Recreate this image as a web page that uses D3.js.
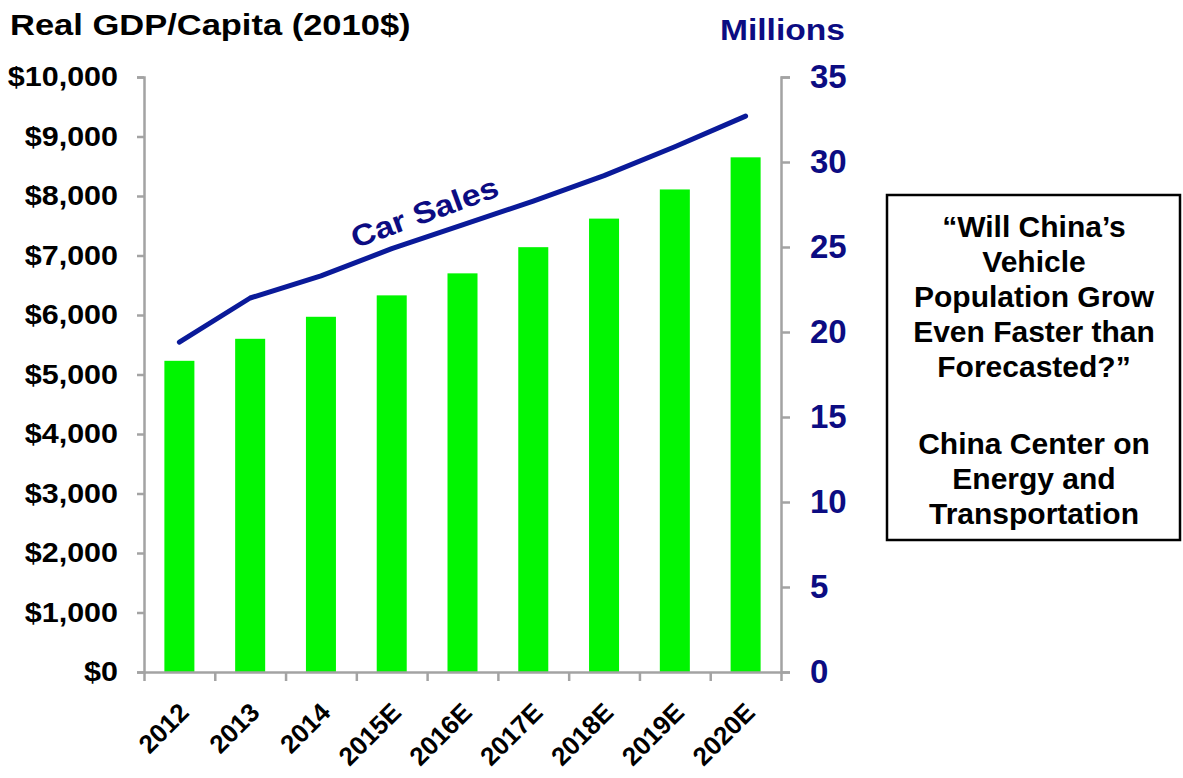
<!DOCTYPE html>
<html lang="en">
<head>
  <meta charset="UTF-8">
  <title>Real GDP per Capita and Car Sales</title>
  <style>
    body {
      margin: 0;
      background: #fff;
      font-family: "Liberation Sans", Arial, sans-serif;
    }
    text {
      font-weight: bold;
    }
  </style>
</head>
<body>
  <svg class="chart"></svg>
  <script src="https://cdn.jsdelivr.net/npm/d3@7"></script>
  <script>
    var w = 1183;
    var h = 778;

    // data
    var years = ["2012", "2013", "2014", "2015E", "2016E", "2017E", "2018E", "2019E", "2020E"];
    var gdpPerCapita = [5230, 5600, 5970, 6330, 6700, 7140, 7620, 8110, 8650];
    var carSales = [19.4, 22.0, 23.3, 24.9, 26.3, 27.7, 29.2, 30.9, 32.7];
    var gdpTicks = [0, 1000, 2000, 3000, 4000, 5000, 6000, 7000, 8000, 9000, 10000];
    var salesTicks = [0, 5, 10, 15, 20, 25, 30, 35];
    var boxLines = ["\u201cWill China\u2019s", "Vehicle", "Population Grow", "Even Faster than", "Forecasted?\u201d",
                    "", "China Center on", "Energy and", "Transportation"];

    var plotLeft = 144, plotRight = 781, plotTop = 77, plotBottom = 672;
    var axisColor = "#a3a3a3";
    var navy = "#0c0c82";

    var svg = d3.select(".chart")
      .attr("width", w)
      .attr("height", h);

    var x = d3.scaleBand()
      .domain(years)
      .range([plotLeft, plotRight])
      .paddingInner(0.576)
      .paddingOuter(0.288);

    var yL = d3.scaleLinear().domain([0, 10000]).range([plotBottom, plotTop]);
    var yR = d3.scaleLinear().domain([0, 35]).range([plotBottom, plotTop]);

    // bars
    svg.append("g")
      .selectAll("rect")
      .data(years)
      .enter()
      .append("rect")
      .attr("x", d => x(d))
      .attr("width", x.bandwidth())
      .attr("y", (d, i) => yL(gdpPerCapita[i]))
      .attr("height", (d, i) => plotBottom - yL(gdpPerCapita[i]))
      .attr("fill", "#00f500");

    // left axis
    var gL = svg.append("g")
      .attr("transform", "translate(" + plotLeft + ",0)")
      .call(d3.axisLeft(yL)
        .tickValues(gdpTicks)
        .tickFormat(d => "$" + d3.format(",")(d))
        .tickSize(7)
        .tickPadding(16));
    gL.selectAll("text")
      .attr("transform", "scale(1.13,1)")
      .attr("font-size", "27px")
      .attr("font-family", "Liberation Sans, Arial, sans-serif")
      .attr("fill", "#000");

    // right axis
    var gR = svg.append("g")
      .attr("transform", "translate(" + plotRight + ",0)")
      .call(d3.axisRight(yR)
        .tickValues(salesTicks)
        .tickSize(9)
        .tickPadding(20));
    gR.selectAll("text")
      .attr("font-size", "33px")
      .attr("font-family", "Liberation Sans, Arial, sans-serif")
      .attr("fill", navy);

    // bottom axis: ticks between the categories
    var xEdge = d3.scaleLinear().domain([0, years.length]).range([plotLeft, plotRight]);
    var gB = svg.append("g")
      .attr("transform", "translate(0," + plotBottom + ")")
      .call(d3.axisBottom(xEdge)
        .tickValues(d3.range(years.length + 1))
        .tickFormat("")
        .tickSize(9)
        .tickSizeOuter(0));

    // category labels
    var gX = svg.append("g")
      .attr("transform", "translate(0," + plotBottom + ")")
      .call(d3.axisBottom(x).tickSize(0));
    gX.select(".domain").remove();
    gX.selectAll("text")
      .attr("x", 0)
      .attr("y", 0)
      .attr("dy", 0)
      .attr("transform", "translate(11,42) rotate(-45)")
      .attr("text-anchor", "end")
      .attr("font-size", "26px")
      .attr("font-family", "Liberation Sans, Arial, sans-serif")
      .attr("fill", "#000");

    [gL, gR, gB].forEach(g => {
      g.selectAll("path, line")
        .attr("stroke", axisColor)
        .attr("stroke-width", 2.5);
    });

    // car sales line
    var lineFun = d3.line()
      .x((d, i) => x(years[i]) + x.bandwidth() / 2)
      .y(d => yR(d))
      .curve(d3.curveLinear);

    svg.append("path")
      .attr("d", lineFun(carSales))
      .attr("fill", "none")
      .attr("stroke", "#0a1a99")
      .attr("stroke-width", 5)
      .attr("stroke-linecap", "round")
      .attr("stroke-linejoin", "round");

    svg.append("text")
      .text("Car Sales")
      .attr("transform", "translate(428,222) rotate(-20) scale(1.13,1)")
      .attr("text-anchor", "middle")
      .attr("font-size", "30px")
      .attr("fill", navy);

    // titles
    svg.append("text")
      .text("Real GDP/Capita (2010$)")
      .attr("transform", "translate(10,35) scale(1.15,1)")
      .attr("font-size", "30px")
      .attr("fill", "#000");

    svg.append("text")
      .text("Millions")
      .attr("transform", "translate(845,40) scale(1.12,1)")
      .attr("text-anchor", "end")
      .attr("font-size", "30px")
      .attr("fill", navy);

    // note box
    svg.append("rect")
      .attr("x", 887)
      .attr("y", 195)
      .attr("width", 293)
      .attr("height", 345)
      .attr("fill", "none")
      .attr("stroke", "#000")
      .attr("stroke-width", 2.5);

    var boxY = [237, 272, 307, 342, 377, 0, 454, 489, 524];
    svg.append("g")
      .selectAll("text")
      .data(boxLines)
      .enter()
      .append("text")
      .text(d => d)
      .attr("x", 1034)
      .attr("y", (d, i) => boxY[i])
      .attr("text-anchor", "middle")
      .attr("font-size", "30px")
      .attr("fill", "#000");
  </script>
</body>
</html>
